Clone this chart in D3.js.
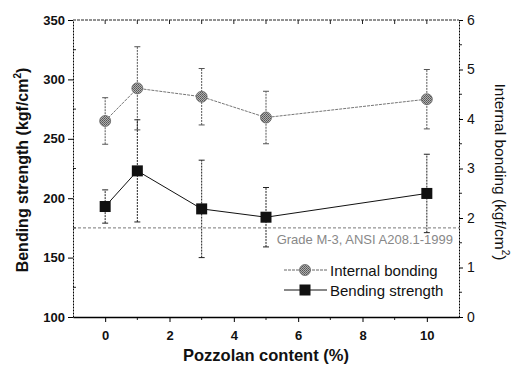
<!DOCTYPE html>
<html>
<head>
<meta charset="utf-8">
<script src="https://cdn.jsdelivr.net/npm/d3@7"></script>
<style>
  body { margin: 0; background: #fff; }
  svg { display: block; font-family: "Liberation Sans", Arial, sans-serif; }
  .tick text { font-weight: bold; font-size: 13px; fill: #111; }
</style>
</head>
<body>
<svg id="chart" width="514" height="375"></svg>
<script>
// Pozzolan content (%) on x
const contents = [0, 1, 3, 5, 10];
// bending strength, kgf/cm2 (left axis) with error half-widths
const bending = [193, 223, 191, 184, 204];
const bendingErr = [14, 43, 41, 25, 33];
// internal bonding, kgf/cm2 (right axis) with error half-widths
const bonding = [3.96, 4.62, 4.45, 4.03, 4.40];
const bondingErr = [0.47, 0.84, 0.57, 0.53, 0.60];
// standard line (Grade M-3) on left axis
const gradeLine = 175;
const leftTicks = [100, 150, 200, 250, 300, 350];
const rightTicks = [0, 1, 2, 3, 4, 5, 6];
const xTicks = [0, 2, 4, 6, 8, 10];

const svg = d3.select("#chart");
const L = 73, R = 459, T = 20, B = 317;

const x = d3.scaleLinear().domain([-1, 11]).range([L, R]);
const yL = d3.scaleLinear().domain([100, 350]).range([B, T]);
const yR = d3.scaleLinear().domain([0, 6]).range([B, T]);

// minor ticks
const g = svg.append("g").attr("stroke", "#222").attr("stroke-width", 1);
d3.range(125, 350, 50).forEach(v => g.append("line").attr("x1", L).attr("x2", L + 3).attr("y1", yL(v)).attr("y2", yL(v)));
d3.range(0.5, 6, 1).forEach(v => g.append("line").attr("x1", R).attr("x2", R + 3).attr("y1", yR(v)).attr("y2", yR(v)));
d3.range(1, 10, 2).forEach(v => g.append("line").attr("x1", x(v)).attr("x2", x(v)).attr("y1", B).attr("y2", B + 3));
d3.range(0, 11, 1).forEach(v => g.append("line").attr("x1", x(v)).attr("x2", x(v)).attr("y1", T).attr("y2", T + 4));

// axes
svg.append("g").attr("transform", `translate(${L},0)`)
  .call(d3.axisLeft(yL).tickValues(leftTicks).tickSize(5).tickPadding(3).tickSizeOuter(0))
  .call(a => a.select(".domain").attr("stroke-dasharray", "2,1"));
svg.append("g").attr("transform", `translate(${R},0)`)
  .call(d3.axisRight(yR).tickValues(rightTicks).tickFormat(d3.format("d")).tickSize(4).tickPadding(4).tickSizeOuter(0))
  .call(a => a.selectAll("text").style("font-weight", "normal").style("font-size", "14px"))
  .call(a => a.select(".domain").attr("stroke-dasharray", "2,1"));
svg.append("g").attr("transform", `translate(0,${B})`)
  .call(d3.axisBottom(x).tickValues(xTicks).tickSize(5).tickPadding(9).tickSizeOuter(0))
  .call(a => a.select(".domain").attr("stroke-width", 1.5));
svg.append("line").attr("x1", L).attr("x2", R).attr("y1", T).attr("y2", T)
  .attr("stroke", "#222").attr("stroke-dasharray", "3,1");

// grade reference line
svg.append("line").attr("x1", L).attr("x2", R).attr("y1", yL(gradeLine)).attr("y2", yL(gradeLine))
  .attr("stroke", "#555").attr("stroke-width", 0.8).attr("stroke-dasharray", "3,2");
svg.append("text").attr("x", 453).attr("y", yL(gradeLine) + 16).attr("text-anchor", "end")
  .attr("font-size", "13px").attr("fill", "#888").text("Grade M-3, ANSI A208.1-1999");

function errorBars(vals, errs, y, color) {
  const eg = svg.append("g").attr("stroke", color).attr("stroke-width", 1);
  vals.forEach((v, i) => {
    const cx = x(contents[i]);
    eg.append("line").attr("x1", cx).attr("x2", cx).attr("y1", y(v - errs[i])).attr("y2", y(v + errs[i]))
      .attr("stroke-dasharray", "2,1");
    [v - errs[i], v + errs[i]].forEach(e => eg.append("line")
      .attr("x1", cx - 3).attr("x2", cx + 3).attr("y1", y(e)).attr("y2", y(e)));
  });
}

// internal bonding
errorBars(bonding, bondingErr, yR, "#555");
svg.append("path").datum(bonding)
  .attr("fill", "none").attr("stroke", "#666").attr("stroke-width", 0.9).attr("stroke-dasharray", "3,1")
  .attr("d", d3.line().x((d, i) => x(contents[i])).y(d => yR(d)));

// bending strength
errorBars(bending, bendingErr, yL, "#222");
svg.append("path").datum(bending)
  .attr("fill", "none").attr("stroke", "#111").attr("stroke-width", 1)
  .attr("d", d3.line().x((d, i) => x(contents[i])).y(d => yL(d)));

const defs = svg.append("defs");
const pat = defs.append("pattern").attr("id", "hatch").attr("width", 2).attr("height", 2)
  .attr("patternUnits", "userSpaceOnUse");
pat.append("rect").attr("width", 2).attr("height", 2).attr("fill", "#b0b0b0");
pat.append("rect").attr("width", 1).attr("height", 1).attr("fill", "#555");
pat.append("rect").attr("x", 1).attr("y", 1).attr("width", 1).attr("height", 1).attr("fill", "#666");

svg.append("g").selectAll("circle").data(bonding).join("circle")
  .attr("cx", (d, i) => x(contents[i])).attr("cy", d => yR(d)).attr("r", 5.5)
  .attr("fill", "url(#hatch)").attr("stroke", "#666").attr("stroke-width", 0.8);
svg.append("g").selectAll("rect").data(bending).join("rect")
  .attr("x", (d, i) => x(contents[i]) - 5.5).attr("y", d => yL(d) - 5.5)
  .attr("width", 11).attr("height", 11).attr("fill", "#111");

// legend
const lg = svg.append("g");
lg.append("line").attr("x1", 284).attr("x2", 327).attr("y1", 270).attr("y2", 270)
  .attr("stroke", "#666").attr("stroke-dasharray", "3,1");
lg.append("circle").attr("cx", 305).attr("cy", 270).attr("r", 5.5)
  .attr("fill", "url(#hatch)").attr("stroke", "#666").attr("stroke-width", 0.8);
lg.append("line").attr("x1", 284).attr("x2", 327).attr("y1", 290).attr("y2", 290)
  .attr("stroke", "#111");
lg.append("rect").attr("x", 299.5).attr("y", 284.5).attr("width", 11).attr("height", 11).attr("fill", "#111");
lg.append("text").attr("x", 330).attr("y", 275.5).attr("font-size", "15px").attr("fill", "#111").text("Internal bonding");
lg.append("text").attr("x", 330).attr("y", 295.5).attr("font-size", "15px").attr("fill", "#111").text("Bending strength");

// axis titles
const lt = svg.append("text").attr("transform", "translate(28,170) rotate(-90)")
  .attr("text-anchor", "middle").attr("font-size", "16px").attr("font-weight", "bold").attr("fill", "#111");
lt.append("tspan").text("Bending strength (kgf/cm");
lt.append("tspan").attr("font-size", "10px").attr("dy", -7).text("2");
lt.append("tspan").attr("dy", 7).text(")");

const rt = svg.append("text").attr("transform", "translate(495,172) rotate(90)")
  .attr("text-anchor", "middle").attr("font-size", "15.5px").attr("fill", "#111");
rt.append("tspan").text("Internal bonding (kgf/cm");
rt.append("tspan").attr("font-size", "10px").attr("dy", -7).text("2");
rt.append("tspan").attr("dy", 7).text(")");

svg.append("text").attr("x", 266).attr("y", 361).attr("text-anchor", "middle")
  .attr("font-size", "16.5px").attr("font-weight", "bold").attr("fill", "#111").text("Pozzolan content (%)");
</script>
</body>
</html>
